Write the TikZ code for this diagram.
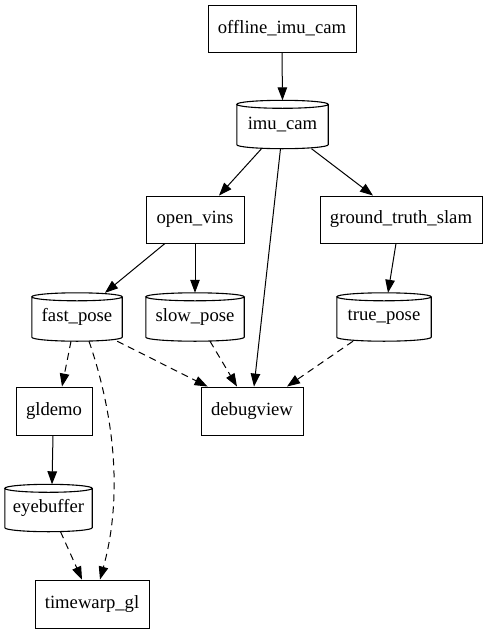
\documentclass[tikz,border=0pt]{standalone}
\usepackage{fontspec}
\setmainfont{Liberation Serif}
\usetikzlibrary{arrows.meta,calc}
\tikzset{
  box/.style={draw, line width=0.9pt, inner sep=0pt, minimum height=47pt, font=\fontsize{18.67}{22}\selectfont},
  cyl/.style={inner sep=0pt, minimum height=48pt, font=\fontsize{18.67}{22}\selectfont},
  cylline/.style={line width=1.1pt},
  edge/.style={line width=1pt, -{Triangle[length=13pt,width=9.5pt]}},
  dedge/.style={edge, dash pattern=on 7pt off 5pt},
}
\newcommand{\cylout}[1]{%
  \draw[cylline] let \p1=(#1.north west), \p2=(#1.south east), \n1={(\x2-\x1)/2} in
    ({(\x1+\x2)/2},\y1-4pt) ellipse [x radius=\n1, y radius=4pt]
    (\x1,\y1-4pt) -- (\x1,\y2+4pt) arc [start angle=180, end angle=360, x radius=\n1, y radius=4pt] -- (\x2,\y1-4pt);}
\begin{document}
\begin{tikzpicture}[x=1pt,y=-1pt]
\fill[white] (0,0) rectangle (485,635);
\useasboundingbox (0,0) rectangle (485,635);
\node[box, minimum width=148pt] (oic) at (282,28.5) {offline\_imu\_cam};
\node[cyl, minimum width=91pt] (imu) at (282.5,124.5) {imu\_cam};
\node[box, minimum width=98pt] (ov) at (195,219.5) {open\_vins};
\node[box, minimum width=162pt] (gts) at (401,219.5) {ground\_truth\_slam};
\node[cyl, minimum width=90pt] (fp) at (77,317) {fast\_pose};
\node[cyl, minimum width=98pt] (sp) at (195,317) {slow\_pose};
\node[cyl, minimum width=94pt] (tp) at (384,317) {true\_pose};
\node[box, minimum width=76pt, minimum height=48pt] (gl) at (54,411) {gldemo};
\node[box, minimum width=102pt, minimum height=48pt] (dv) at (252,411) {debugview};
\node[cyl, minimum width=87pt, minimum height=47pt] (eb) at (48.5,508) {eyebuffer};
\node[box, minimum width=114pt, minimum height=48pt] (tw) at (92,604) {timewarp\_gl};
\cylout{imu}\cylout{fp}\cylout{sp}\cylout{tp}\cylout{eb}
\draw[edge] (oic.south) -- (imu.north);
\draw[edge] ([xshift=-21pt]imu.south) -- ([xshift=24pt]ov.north);
\draw[edge] ([xshift=-2pt]imu.south) -- ([xshift=2pt]dv.north);
\draw[edge] ([xshift=29pt]imu.south) -- ([xshift=-28pt]gts.north);
\draw[edge] ([xshift=-30pt]ov.south) -- ([xshift=28pt]fp.north);
\draw[edge] (ov.south) -- (sp.north);
\draw[edge] ([xshift=-5pt]gts.south) -- ([xshift=4pt]tp.north);
\draw[dedge] ([xshift=-6pt]fp.south) -- ([xshift=8pt]gl.north);
\draw[dedge] ([xshift=-5pt]fp.south east) -- ([xshift=7pt]dv.north west);
\draw[dedge] ([xshift=15pt]sp.south) -- ([xshift=-15pt]dv.north);
\draw[dedge] ([xshift=-31pt]tp.south) -- ([xshift=35pt]dv.north);
\draw[edge] ([xshift=-1pt]gl.south) -- ([xshift=3.5pt]eb.north);
\draw[dedge] ([xshift=12pt]eb.south) -- ([xshift=-10pt]tw.north);
\draw[dedge] ([xshift=12pt]fp.south) .. controls (116,420) and (122,500) .. ([xshift=8pt]tw.north);
\end{tikzpicture}
\end{document}
